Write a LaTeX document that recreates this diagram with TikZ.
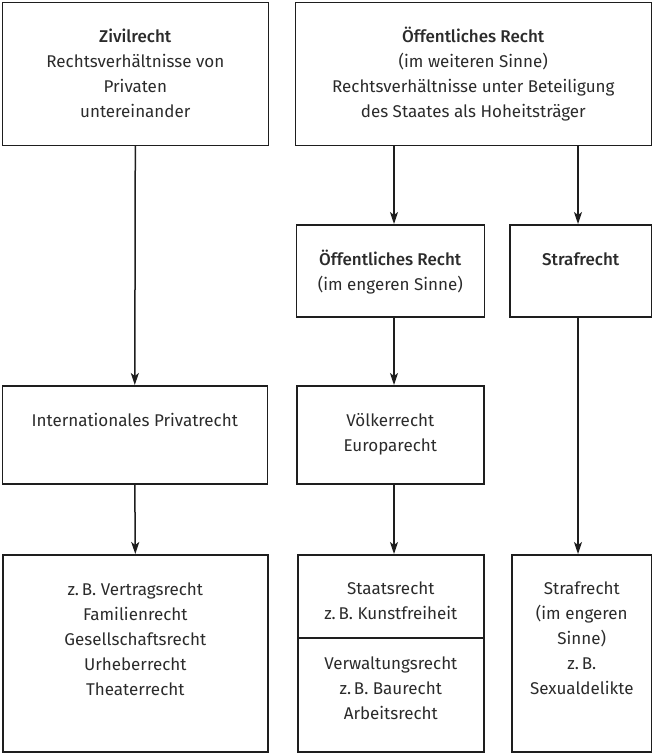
\documentclass[tikz,border=0pt]{standalone}
\usepackage{fontspec}
\setmainfont{Fira Sans}[BoldFont={Fira Sans Medium}]
\usetikzlibrary{arrows.meta,calc}
\definecolor{txt}{HTML}{2B2B2B}
\definecolor{ln}{HTML}{1E1E1E}
\begin{document}
\begin{tikzpicture}[x=1pt,y=-1pt,
  box/.style={draw=ln, line width=1.6pt, rectangle, inner sep=0pt, anchor=north west},
  tx/.style={text=txt, align=center, anchor=north, inner sep=0pt,
    font=\fontsize{17}{25}\selectfont},
  arr/.style={draw=ln, line width=1.5pt, -{Stealth[length=12pt,width=8pt,inset=3pt]}}]
\useasboundingbox (0,0) rectangle (652,753);
% boxes
\node[box, minimum width=266pt, minimum height=143pt] (zivil) at (1.5,1.5) {};
\node[box, minimum width=356pt, minimum height=143pt] (oeffw) at (294.5,1.5) {};
\node[box, minimum width=188pt, minimum height=92pt] (oeffe) at (295.5,224) {};
\node[box, minimum width=142pt, minimum height=92pt] (straf) at (509,224) {};
\node[box, minimum width=265pt, minimum height=98pt] (ipr) at (1.5,385) {};
\node[box, minimum width=187pt, minimum height=98pt] (voelk) at (296,385) {};
\node[box, minimum width=265pt, minimum height=197pt] (bsp) at (2,554) {};
\node[box, minimum width=186pt, minimum height=197pt] (staat) at (297,554) {};
\node[box, minimum width=140pt, minimum height=197pt] (straf2) at (511,554) {};
\draw[draw=ln, line width=1.6pt] (staat.west |- 0,638) -- (staat.east |- 0,638);
% texts
\node[tx] (zivilT) at (zivil.center |- 0,24.5) {\strut\textbf{Zivilrecht}\\Rechtsverhältnisse von\\Privaten\\untereinander};
\node[tx] (oeffwT) at (oeffw.center |- 0,24.5) {\strut\textbf{Öffentliches Recht}\\(im weiteren Sinne)\\Rechtsverhältnisse unter Beteiligung\\des Staates als Hoheitsträger};
\node[tx] (oeffeT) at (oeffe.center |- 0,247.5) {\strut\textbf{Öffentliches Recht}\\(im engeren Sinne)};
\node[tx] (strafT) at (straf.center |- 0,247.5) {\strut\textbf{Strafrecht}};
\node[tx] (iprT) at (ipr.center |- 0,409) {\strut Internationales Privatrecht};
\node[tx] (voelkT) at (voelk.center |- 0,409) {\strut Völkerrecht\\Europarecht};
\node[tx] (bspT) at (bsp.center |- 0,577.5) {\strut z.\,B. Vertragsrecht\\Familienrecht\\Gesellschaftsrecht\\Urheberrecht\\Theaterrecht};
\node[tx] (staatT) at (staat.center |- 0,576.5) {\strut Staatsrecht\\z.\,B. Kunstfreiheit};
\node[tx] (verwT) at (staat.center |- 0,651.5) {\strut Verwaltungsrecht\\z.\,B. Baurecht\\Arbeitsrecht};
\node[tx] (straf2T) at (straf2.center |- 0,576.5) {\strut Strafrecht\\(im engeren\\Sinne)\\z.\,B.\\Sexualdelikte};
% connectors
\coordinate (colA) at (394,0);
\coordinate (colB) at (578,0);
\draw[arr] (zivil.south) -- (ipr.north);
\draw[arr] (oeffw.south -| colA) -- (oeffe.north -| colA);
\draw[arr] (oeffw.south -| colB) -- (straf.north -| colB);
\draw[arr] (ipr.south) -- (bsp.north);
\draw[arr] (oeffe.south -| colA) -- (voelk.north -| colA);
\draw[arr] (voelk.south -| colA) -- (staat.north -| colA);
\draw[arr] (straf.south -| colB) -- (straf2.north -| colB);
\end{tikzpicture}
\end{document}
